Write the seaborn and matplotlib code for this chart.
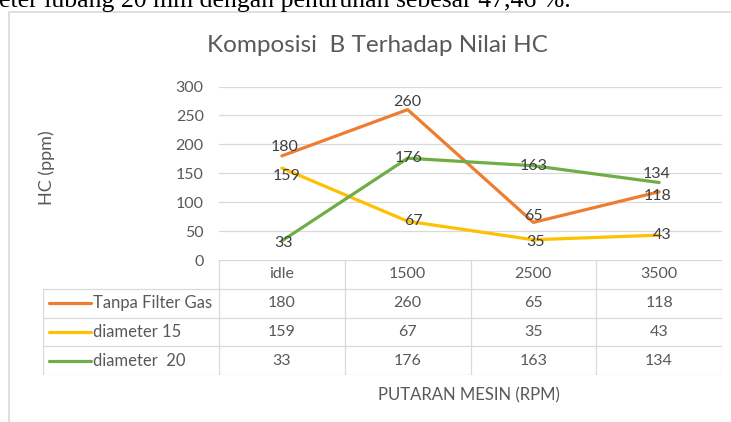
import matplotlib
matplotlib.use("Agg")
import matplotlib.pyplot as plt
import matplotlib.patches as mpatches
from matplotlib.lines import Line2D
import seaborn as sns
import pandas as pd

# Data
categories = ["idle", "1500", "2500", "3500"]
series_names = ["Tanpa Filter Gas", "diameter 15", "diameter  20"]
tanpa_filter = [180, 260, 65, 118]
diameter_15 = [159, 67, 35, 43]
diameter_20 = [33, 176, 163, 134]
y_ticks = [0, 50, 100, 150, 200, 250, 300]

title = "Komposisi  B Terhadap Nilai HC"
y_label = "HC (ppm)"
x_label = "PUTARAN MESIN (RPM)"
cut_text = "eter lubang 20 mm dengan penurunan sebesar 47,46 %."

# Style
colors = ["#ED7D31", "#FFC000", "#70AD47"]
text_color = "#595959"
grid_color = "#D9D9D9"
# data label nudges (pixels) per series, Excel-like placement
label_nudge = [
    [(3, 9), (0, 8), (0, 6), (-2, -4)],
    [(5, -8), (6, 0), (2, -2), (3, 0)],
    [(2, -2), (1, 0), (0, 0), (-3, 9)],
]

W, H = 731, 422
def fx(px):
    return px / W
def fy(py):
    return 1 - py / H

sns.set_theme(style="white")
plt.rcParams["font.family"] = ["Lato", "DejaVu Sans"]

series_values = [tanpa_filter, diameter_15, diameter_20]
df = pd.DataFrame({
    "series": [s for s in series_names for _ in categories],
    "pos": [i for _ in series_names for i in range(len(categories))],
    "value": [v for vals in series_values for v in vals],
})

fig = plt.figure(figsize=(W / 100, H / 100), dpi=100)

# outer chart frame
fig.patches.append(mpatches.Rectangle((fx(9), fy(430)), fx(740) - fx(9), fy(12) - fy(430),
                                      transform=fig.transFigure, fill=False,
                                      edgecolor=grid_color, lw=1.2))

ax = fig.add_axes([fx(219), fy(260), fx(722) - fx(219), fy(86.5) - fy(260)])
for yv in y_ticks[1:]:
    ax.axhline(yv, color=grid_color, lw=0.9, zorder=0)

sns.lineplot(data=df, x="pos", y="value", hue="series", palette=colors,
             hue_order=series_names, linewidth=2.3, sort=False, legend=False, ax=ax)

for vals, nudges in zip(series_values, label_nudge):
    for i, (v, (dx, dy)) in enumerate(zip(vals, nudges)):
        ax.annotate(str(v), (i, v), xytext=(dx, dy), textcoords="offset pixels",
                    ha="center", va="center", fontsize=11.5, color="#404040")

ax.set_xlim(-0.5, len(categories) - 0.5)
ax.set_ylim(0, 300)
ax.set_yticks(y_ticks)
ax.set_xticks([])
ax.set_xlabel("")
ax.set_ylabel("")
ax.tick_params(axis="y", length=0, pad=11, labelsize=11.5, labelcolor=text_color)
for sp in ax.spines.values():
    sp.set_visible(False)
ax.patch.set_alpha(0)

# data table below the axis
legend_w = (219 - 43) / 125.75
tab = fig.add_axes([fx(43), fy(375), fx(722) - fx(43), fy(260) - fy(375)])
tab.set_xlim(-0.5 - legend_w, len(categories) - 0.5)
tab.set_ylim(len(series_names) + 1, 0)
tab.axis("off")
nrow = len(series_names) + 1
for xb in [i - 0.5 for i in range(len(categories) + 1)]:
    tab.add_line(Line2D([xb, xb], [0, nrow], color=grid_color, lw=0.9))
tab.add_line(Line2D([-0.5 - legend_w] * 2, [1, nrow], color=grid_color, lw=0.9))
tab.add_line(Line2D([-0.5, len(categories) - 0.5], [0, 0], color=grid_color, lw=0.9))
for r in range(1, nrow + 1):
    tab.add_line(Line2D([-0.5 - legend_w, len(categories) - 0.5], [r, r],
                        color=grid_color, lw=0.9))
for i, c in enumerate(categories):
    tab.text(i, 0.5, c, ha="center", va="center", fontsize=11.5, color=text_color)
x0 = -0.5 - legend_w
for r, (name, vals, col) in enumerate(zip(series_names, series_values, colors), start=1):
    tab.add_line(Line2D([x0 + 0.05, x0 + 0.38], [r + 0.5, r + 0.5], color=col, lw=2.3))
    tab.text(x0 + 0.395, r + 0.5, name, ha="left", va="center", fontsize=12,
             color=text_color)
    for i, v in enumerate(vals):
        tab.text(i, r + 0.5, str(v), ha="center", va="center", fontsize=11.5,
                 color=text_color)

fig.text(fx(377), fy(45), title, ha="center", va="center", fontsize=17.5, color=text_color)
fig.text(fx(47), fy(168), y_label, rotation=90, ha="center", va="center",
         fontsize=13, color=text_color)
fig.text(fx(469), fy(395), x_label, ha="center", va="center", fontsize=12, color=text_color)
fig.text(fx(-1), fy(7.5), cut_text, ha="left", va="baseline", fontsize=18.5,
         family=["Liberation Serif", "DejaVu Serif"], color="black")

fig.savefig("out.png", dpi=100)
